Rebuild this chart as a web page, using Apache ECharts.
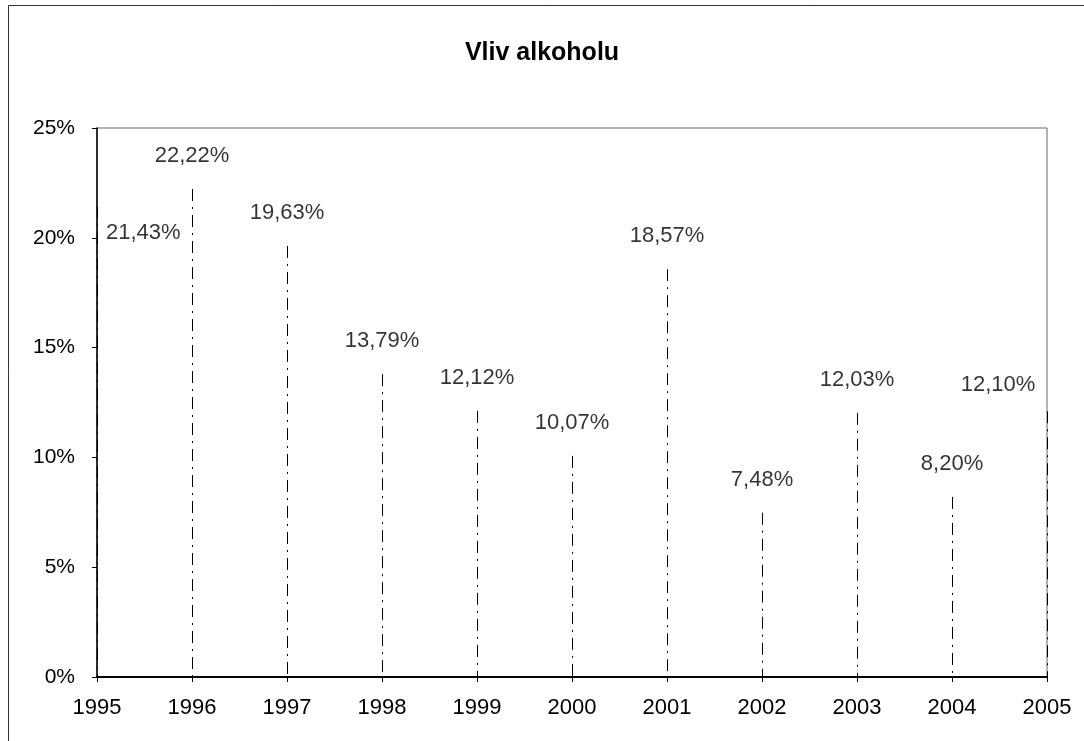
<!DOCTYPE html>
<html>
<head>
<meta charset="utf-8">
<script src="https://cdn.jsdelivr.net/npm/echarts@6/dist/echarts.min.js"></script>
<style>
  html, body { margin: 0; padding: 0; background: #fff; }
  #chart { width: 1084px; height: 741px; }
</style>
</head>
<body>
<div id="chart"></div>
<script>
// roky a podíl (%)
var years = [1995, 1996, 1997, 1998, 1999, 2000, 2001, 2002, 2003, 2004, 2005];
var values = [21.43, 22.22, 19.63, 13.79, 12.12, 10.07, 18.57, 7.48, 12.03, 8.20, 12.10];
var yTicks = [0, 5, 10, 15, 20, 25];

var pts = [];
for (var i = 0; i < years.length; i++) {
  pts.push([years[i], values[i]]);
}

function fmt(v) {
  return v.toFixed(2).replace('.', ',') + '%';
}

// popisky - první vpravo, poslední posunutý doleva
var labelPts = pts.map(function (p, i) {
  var item = { value: p };
  if (i === 0) {
    item.label = { position: 'right', distance: 9, offset: [0, 27] };
  } else if (i === pts.length - 1) {
    item.label = { offset: [-49, 7] };
  }
  return item;
});

var chart = echarts.init(document.getElementById('chart'));
var option = {
  animation: false,
  backgroundColor: '#fff',
  textStyle: { fontFamily: 'Liberation Sans, Arial, sans-serif', color: '#000' },
  title: {
    text: 'Vliv alkoholu',
    left: 'center',
    top: 36,
    textStyle: { fontSize: 25, fontWeight: 'bold', color: '#000', fontFamily: 'Liberation Sans, Arial, sans-serif' }
  },
  graphic: [{
    type: 'rect',
    shape: { x: 8.5, y: 5.5, width: 1100, height: 800 },
    style: { fill: 'none', stroke: '#333', lineWidth: 1 },
    silent: true
  }],
  grid: { left: 97, right: 37, top: 128, bottom: 64, show: true, borderColor: '#666', borderWidth: 1 },
  xAxis: {
    type: 'value',
    min: 1995,
    max: 2005,
    interval: 1,
    splitLine: { show: false },
    axisLine: { show: true, onZero: false, lineStyle: { color: '#000', width: 2 } },
    axisTick: { show: true, length: 5, lineStyle: { color: '#000' } },
    axisLabel: { fontSize: 22, color: '#000', margin: 20, formatter: function (v) { return String(v); } }
  },
  yAxis: {
    type: 'value',
    min: yTicks[0],
    max: yTicks[yTicks.length - 1],
    interval: 5,
    splitLine: { show: false },
    axisLine: { show: true, lineStyle: { color: '#000', width: 1.5 } },
    axisTick: { show: true, length: 5, lineStyle: { color: '#000' } },
    axisLabel: { fontSize: 21, color: '#000', margin: 22, formatter: '{value}%' }
  },
  series: [
    {
      // svislé čáry k ose x
      type: 'custom',
      data: pts,
      renderItem: function (params, api) {
        var top = api.coord([api.value(0), api.value(1)]);
        var bottom = api.coord([api.value(0), 0]);
        return {
          type: 'line',
          shape: { x1: Math.round(top[0]) + 0.5, y1: top[1], x2: Math.round(bottom[0]) + 0.5, y2: bottom[1] },
          style: { stroke: '#000', lineWidth: 1, lineDash: [12, 6, 2, 6] }
        };
      },
      silent: true,
      z: 1
    },
    {
      type: 'scatter',
      data: labelPts,
      symbolSize: 0,
      label: {
        show: true,
        position: 'top',
        distance: 22,
        fontSize: 22,
        color: '#000',
        formatter: function (p) { return fmt(p.value[1]); }
      },
      z: 3
    }
  ]
};
chart.setOption(option);
</script>
</body>
</html>
